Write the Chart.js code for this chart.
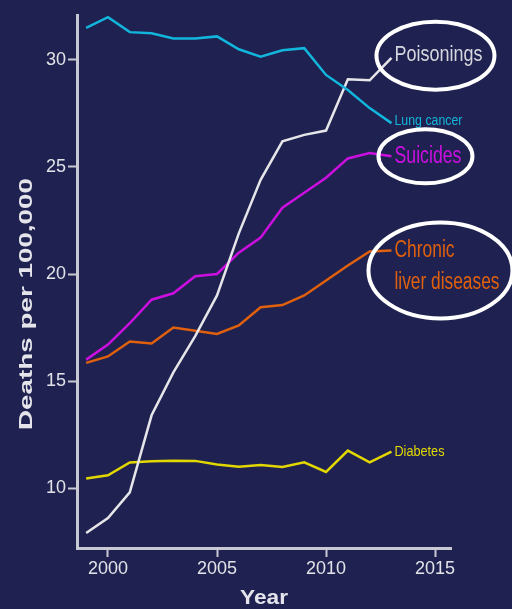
<!DOCTYPE html>
<html>
<head>
<meta charset="utf-8">
<script src="https://cdn.jsdelivr.net/npm/chart.js@4.4.1/dist/chart.umd.min.js"></script>
<style>
  html, body { margin: 0; padding: 0; background: #1f2250; }
  #wrap { width: 512px; height: 609px; }
</style>
</head>
<body>
<div id="wrap"><canvas id="chart" width="512" height="609"></canvas></div>
<script>
const years = [1999, 2000, 2001, 2002, 2003, 2004, 2005, 2006, 2007, 2008, 2009, 2010, 2011, 2012, 2013];
const lungCancer = [31.5, 32.0, 31.3, 31.25, 31.0, 31.0, 31.1, 30.5, 30.15, 30.45, 30.55, 29.3, 28.6, 27.75, 27.05];
const poisonings = [7.9, 8.6, 9.8, 13.4, 15.4, 17.1, 19.0, 21.9, 24.4, 26.2, 26.5, 26.7, 29.1, 29.05, 30.1];
const suicides = [16.0, 16.7, 17.7, 18.8, 19.1, 19.9, 20.0, 21.0, 21.7, 23.1, 23.8, 24.5, 25.4, 25.65, 25.5];
const liverDiseases = [15.85, 16.15, 16.85, 16.75, 17.5, 17.35, 17.2, 17.6, 18.45, 18.55, 19.0, 19.7, 20.4, 21.05, 21.1];
const diabetes = [10.45, 10.6, 11.2, 11.25, 11.28, 11.27, 11.1, 11.0, 11.08, 10.98, 11.2, 10.75, 11.75, 11.2, 11.7];
const yTicks = [10, 15, 20, 25, 30];
const xTicks = [2000, 2005, 2010, 2015];

const axisColor = "#c9c9d3";
const sans = "'Liberation Sans', Arial, sans-serif";

// label text, size and how wide the squeezed text ends up (the original type is condensed)
const series = [
  { label: "Lung cancer", data: lungCancer, color: "#12b6dc", lines: ["Lung cancer"], size: 14, width: [68], dy: -2 },
  { label: "Poisonings", data: poisonings, color: "#e6e6ea", text: "#d6d6de", lines: ["Poisonings"], size: 22, width: [88], dy: -3, ring: [44, -2, 59, 34] },
  { label: "Suicides", data: suicides, color: "#cc0fe0", lines: ["Suicides"], size: 23, width: [67], ring: [34, 0, 47, 27] },
  { label: "Chronic liver diseases", data: liverDiseases, color: "#e0600e", lines: ["Chronic", "liver diseases"], size: 23, width: [60, 105], ring: [49, 20, 72, 48] },
  { label: "Diabetes", data: diabetes, color: "#e2d800", lines: ["Diabetes"], size: 14, width: [50] },
];

function points(values) {
  return years.map((year, i) => ({ x: year, y: values[i] }));
}

function squeezedText(ctx, text, x, y, width) {
  const sx = width / ctx.measureText(text).width;
  ctx.save();
  ctx.translate(x, y);
  ctx.scale(sx, 1);
  ctx.fillText(text, 0, 0);
  ctx.restore();
}

const endLabels = {
  id: "endLabels",
  afterDatasetsDraw(chart) {
    const { ctx, scales } = chart;
    const lastYear = years[years.length - 1];
    ctx.save();
    series.forEach((s) => {
      const x = scales.x.getPixelForValue(lastYear);
      const y = scales.y.getPixelForValue(s.data[s.data.length - 1]);
      ctx.fillStyle = s.text || s.color;
      ctx.font = `${s.size}px ${sans}`;
      ctx.textAlign = "left";
      ctx.textBaseline = "middle";
      s.lines.forEach((line, i) => {
        squeezedText(ctx, line, x + 3, y + (s.dy || 0) + i * 32, s.width[i]);
      });
      if (s.ring) {
        const [ox, oy, rx, ry] = s.ring;
        ctx.strokeStyle = "#ffffff";
        ctx.lineWidth = 4;
        ctx.beginPath();
        ctx.ellipse(x + ox, y + oy, rx, ry, 0, 0, Math.PI * 2);
        ctx.stroke();
      }
    });

    // axis titles, stretched like the original
    ctx.fillStyle = "#e4e4ea";
    ctx.font = `bold 19px ${sans}`;
    ctx.textAlign = "left";
    ctx.textBaseline = "middle";
    const yTitle = "Deaths per 100,000";
    const yWidth = 252;
    ctx.save();
    ctx.translate(27, 304);
    ctx.rotate(-Math.PI / 2);
    squeezedText(ctx, yTitle, -yWidth / 2, 0, yWidth);
    ctx.restore();

    ctx.font = `bold 20px ${sans}`;
    squeezedText(ctx, "Year", 240, 598, 48);
    ctx.restore();
  },
};

new Chart(document.getElementById("chart"), {
  type: "line",
  data: {
    datasets: series.map((s) => ({
      label: s.label,
      data: points(s.data),
      borderColor: s.color,
      borderWidth: 2.5,
      pointRadius: 0,
      tension: 0,
    })),
  },
  options: {
    responsive: false,
    animation: false,
    layout: { padding: { top: 15, right: 61, left: 0, bottom: 0 } },
    plugins: { legend: { display: false }, tooltip: { enabled: false } },
    scales: {
      x: {
        type: "linear",
        min: 1998.58,
        max: 2015.73,
        afterBuildTicks: (scale) => { scale.ticks = xTicks.map((v) => ({ value: v })); },
        afterFit: (scale) => { scale.height = 61; },
        border: { display: true, color: axisColor, width: 3 },
        grid: { display: true, drawOnChartArea: false, drawTicks: true, tickLength: 9, tickWidth: 2, color: axisColor },
        ticks: { color: "#e2e2e8", font: { size: 18, family: sans }, padding: 1, maxRotation: 0, callback: (v) => String(v) },
      },
      y: {
        min: 7.2,
        max: 32.1,
        afterBuildTicks: (scale) => { scale.ticks = yTicks.map((v) => ({ value: v })); },
        afterFit: (scale) => { scale.width = 77; },
        border: { display: true, color: axisColor, width: 3 },
        grid: { display: true, drawOnChartArea: false, drawTicks: true, tickLength: 9, tickWidth: 2, color: axisColor },
        ticks: { color: "#e2e2e8", font: { size: 18, family: sans }, padding: 2 },
      },
    },
  },
  plugins: [endLabels],
});
</script>
</body>
</html>
